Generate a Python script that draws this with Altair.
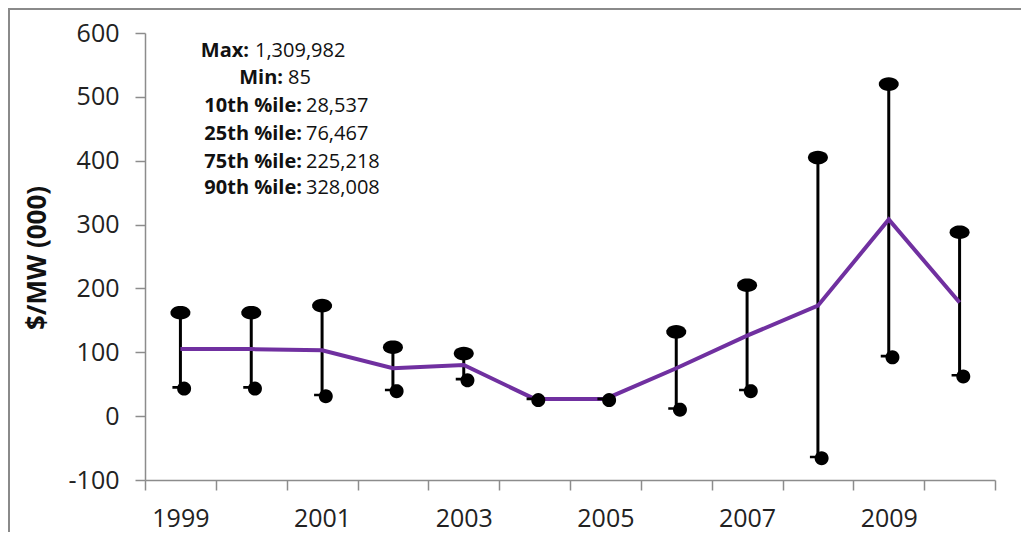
import math
import altair as alt
import pandas as pd

# ---------------- data ----------------
years = ["1999", "2000", "2001", "2002", "2003", "2004",
         "2005", "2006", "2007", "2008", "2009", "2010"]
mean_vals = [105, 105, 103, 75, 80, 27, 27, 75, 126, 173, 308, 178]
high_vals = [162, 162, 173, 108, 98, None, None, 132, 205, 405, 520, 288]
low_vals = [45, 45, 33, 41, 58, 27, 27, 12, 41, -64, 94, 64]

stat_labels = ["Max:", "Min:", "10th %ile:", "25th %ile:", "75th %ile:", "90th %ile:"]
stat_values = ["1,309,982", "85", "28,537", "76,467", "225,218", "328,008"]

y_ticks = [-100, 0, 100, 200, 300, 400, 500, 600]

# ---------------- layout / style ----------------
W, H = 850, 447
PURPLE = "#7030A0"
AXIS_GREY = "#8c8c8c"
FONT = "Open Sans"

# annotation layout (pixels inside plot area)
stat_line_y = [18, 45, 73, 101, 129, 155]
stat_label_right = [104, 138, 157, 157, 157, 157]
stat_value_left = [110, 143, 161, 161, 161, 161]


def ellipse_path(cx, cy, rx, ry, n=28):
    pts = []
    for i in range(n):
        a = 2 * math.pi * i / n
        pts.append(f"{cx + rx * math.cos(a):.3f},{cy + ry * math.sin(a):.3f}")
    return "M" + " L".join(pts) + " Z"


top_shape = ellipse_path(0, 0, 1.0, 0.68)
bottom_shape = ellipse_path(0.37, 0.12, 0.7, 0.7) + " M-0.8,-0.13 L0,-0.13 L0,0.13 L-0.8,0.13 Z"

df = pd.DataFrame({"year": years, "mean": mean_vals, "high": high_vals, "low": low_vals})

x_enc = alt.X(
    "year:O",
    sort=years,
    scale=alt.Scale(paddingInner=0, paddingOuter=0),
    axis=alt.Axis(
        title=None,
        labelAngle=0,
        tickBand="extent",
        labelExpr="toNumber(datum.value) % 2 == 1 ? datum.label : ''",
        labelFont=FONT,
        labelFontSize=25,
        labelColor="#222222",
        labelPadding=16,
        tickSize=10,
        tickColor=AXIS_GREY,
        domainColor=AXIS_GREY,
        domainWidth=1.5,
        tickWidth=1.5,
        grid=False,
    ),
)

y_scale = alt.Scale(domain=[-100, 600], nice=False, zero=False)
y_axis = alt.Axis(
    title="$/MW (000)",
    values=y_ticks,
    labelExpr="'' + datum.value",
    grid=False,
    labelFont=FONT,
    labelFontSize=25,
    labelColor="#222222",
    labelPadding=16,
    tickSize=10,
    tickColor=AXIS_GREY,
    domainColor=AXIS_GREY,
    domainWidth=1.5,
    tickWidth=1.5,
    titleFont=FONT,
    titleFontSize=26,
    titleFontWeight="bold",
    titleColor="#111111",
    titleX=-108,
    titleY=H / 2 + 1,
    titleAlign="center",
    titleBaseline="middle",
    titleAngle=270,
)

base = alt.Chart(df)

whiskers = base.mark_rule(color="black", strokeWidth=3).encode(
    x=x_enc,
    y=alt.Y("low:Q", scale=y_scale, axis=y_axis),
    y2="high:Q",
)

line = base.mark_line(color=PURPLE, strokeWidth=4).encode(
    x=x_enc,
    y=alt.Y("mean:Q", scale=y_scale),
)

top_caps = base.mark_point(shape=top_shape, filled=True, color="black", opacity=1, size=400).encode(
    x=x_enc,
    y=alt.Y("high:Q", scale=y_scale),
)

bottom_caps = base.mark_point(shape=bottom_shape, filled=True, color="black", opacity=1, size=400).encode(
    x=x_enc,
    y=alt.Y("low:Q", scale=y_scale),
)

# outer frame (decoration like the reference's picture border)
frame = alt.Chart(pd.DataFrame({"k": [0]})).mark_rect(
    filled=False, stroke="#8a8a8a", strokeWidth=2
).encode(
    x=alt.value(-136), x2=alt.value(W + 200),
    y=alt.value(-24), y2=alt.value(H + 200),
)

text_layers = []
for i in range(len(stat_labels)):
    one = alt.Chart(pd.DataFrame({"label": [stat_labels[i]], "value": [stat_values[i]]}))
    text_layers.append(
        one.mark_text(font=FONT, fontSize=20, fontWeight="bold", align="right",
                      baseline="middle", color="#111111").encode(
            text="label:N", x=alt.value(stat_label_right[i]), y=alt.value(stat_line_y[i]))
    )
    text_layers.append(
        one.mark_text(font=FONT, fontSize=20, fontWeight="normal", align="left",
                      baseline="middle", color="#111111").encode(
            text="value:N", x=alt.value(stat_value_left[i]), y=alt.value(stat_line_y[i]))
    )

chart = alt.layer(
    frame, whiskers, line, top_caps, bottom_caps, *text_layers
).properties(
    width=W,
    height=H,
    autosize=alt.AutoSizeParams(type="none"),
    padding={"left": 137, "top": 25, "right": 26, "bottom": 52},
    background="white",
).configure_view(stroke=None)

chart.save("out.html", embed_options={"renderer": "svg", "actions": False})
